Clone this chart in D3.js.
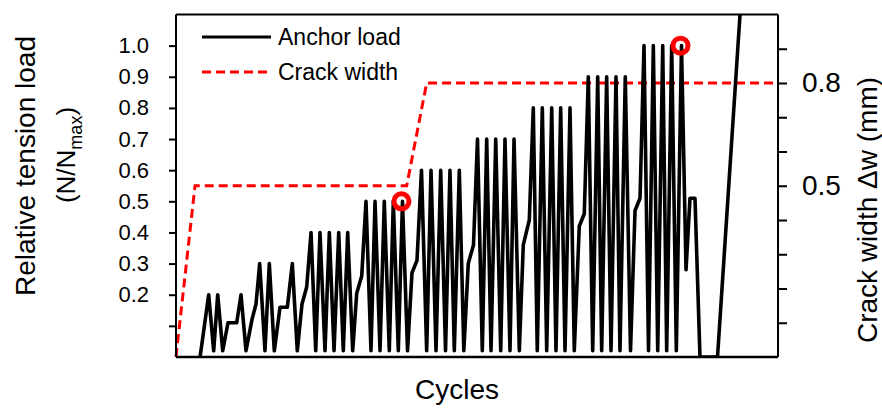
<!DOCTYPE html>
<html>
<head>
<meta charset="utf-8">
<script src="https://cdn.jsdelivr.net/npm/d3@7"></script>
<style>
  html, body { margin: 0; padding: 0; background: #fff; }
  svg text { font-family: "Liberation Sans", Arial, sans-serif; fill: #000; }
</style>
</head>
<body>
<svg id="chart" width="882" height="410"></svg>
<script>
/* anchor load vs crack width, cyclic test */
// cycle axis has no ticks: arbitrary 0..100 units
var loadCycles = [4.0, 5.43, 6.26, 6.93, 7.76, 8.64, 10.08, 10.80, 11.63, 12.62, 13.29, 13.90, 14.78, 15.50, 16.33, 17.28, 18.49, 19.32, 20.15,
  20.93, 21.71, 22.43, 23.21, 23.92, 24.75, 25.47, 26.25, 27.03, 27.79, 28.52, 29.35, 30.02, 30.85,
  31.56, 32.39, 33.06, 33.89, 34.60, 35.43, 36.10, 36.93, 37.62, 38.46, 39.20, 40.03,
  40.78, 41.64, 42.36, 43.19, 43.97, 44.77, 45.51, 46.23, 47.06, 47.81, 48.55, 49.42,
  50.08, 50.88, 51.61, 52.33, 53.11, 53.94, 54.65, 55.48, 56.15, 57.03, 57.69, 58.69,
  59.35, 60.01, 60.85, 61.58, 62.41, 63.12, 63.90, 64.62, 65.45, 66.16, 66.99, 67.82,
  68.49, 69.22, 70.05, 70.71, 71.54, 72.26, 73.09, 73.75, 74.63, 75.50, 76.25, 77.08,
  77.74, 78.49, 79.29, 80.02, 80.85, 81.51, 82.34, 83.11, 83.97, 84.72, 85.38, 86.21, 87.04, 89.95, 93.69];
var loadValues = [0, 0.2, 0.02, 0.2, 0.02, 0.11, 0.11, 0.2, 0.02, 0.12, 0.17, 0.30, 0.02, 0.30, 0.02, 0.16, 0.16, 0.30, 0.02,
  0.17, 0.225, 0.40, 0.02, 0.40, 0.02, 0.40, 0.02, 0.40, 0.02, 0.40, 0.02, 0.205, 0.26,
  0.50, 0.02, 0.50, 0.02, 0.50, 0.02, 0.50, 0.02, 0.50, 0.02, 0.27, 0.31,
  0.60, 0.02, 0.60, 0.02, 0.60, 0.02, 0.60, 0.02, 0.60, 0.02, 0.30, 0.36,
  0.70, 0.02, 0.70, 0.02, 0.70, 0.02, 0.70, 0.02, 0.70, 0.02, 0.36, 0.44,
  0.80, 0.02, 0.80, 0.02, 0.80, 0.02, 0.80, 0.02, 0.80, 0.02, 0.42, 0.46,
  0.90, 0.02, 0.90, 0.02, 0.90, 0.02, 0.90, 0.02, 0.90, 0.02, 0.47, 0.51,
  1.00, 0.02, 1.00, 0.02, 1.00, 0.02, 1.00, 0.02, 1.00, 0.28, 0.51, 0.51, 0, 0, 1.10];
var crackCycles = [0, 3.16, 38.32, 41.64, 100];
var crackValues = [0, 0.5, 0.5, 0.8, 0.8];           // mm
var markedIdx = [41, 101];                           // circled peaks in loadCycles
var loadTicks = [0.1, 0.2, 0.3, 0.4, 0.5, 0.6, 0.7, 0.8, 0.9, 1.0];
var crackTicks = [0.1, 0.2, 0.3, 0.4, 0.5, 0.6, 0.7, 0.8, 0.9];
var crackLabels = [0.5, 0.8];
var seriesNames = ['Anchor load', 'Crack width'];

(function () {
  var svg = d3.select('#chart');
  var L = 176, R = 778, T = 14.5, B = 357;
  var x = d3.scaleLinear().domain([0, 100]).range([L, R]);
  var y = d3.scaleLinear().domain([0, 1.1]).range([B, T]);
  var y2 = d3.scaleLinear().domain([0, 1.0]).range([B, T]);

  svg.append('clipPath').attr('id', 'plot-clip').append('rect')
    .attr('x', L).attr('y', T).attr('width', R - L).attr('height', B - T);

  // crack width (right axis)
  var crack = crackCycles.map(function (c, i) { return [c, crackValues[i]]; });
  svg.append('path').datum(crack)
    .attr('d', d3.line().x(function (d) { return x(d[0]); }).y(function (d) { return y2(d[1]); }))
    .attr('fill', 'none').attr('stroke', '#ff0000').attr('stroke-width', 3).attr('stroke-dasharray', '9,5');

  // anchor load
  var load = loadCycles.map(function (c, i) { return [c, loadValues[i]]; });
  svg.append('path').datum(load).attr('clip-path', 'url(#plot-clip)')
    .attr('d', d3.line().x(function (d) { return x(d[0]); }).y(function (d) { return y(d[1]); }))
    .attr('fill', 'none').attr('stroke', '#000').attr('stroke-width', 3.6).attr('stroke-linejoin', 'round');

  svg.selectAll('circle.mark').data(markedIdx).enter().append('circle').attr('class', 'mark')
    .attr('cx', function (i) { return x(loadCycles[i]) - 1; }).attr('cy', function (i) { return y(loadValues[i]); })
    .attr('r', 7.5).attr('fill', 'none').attr('stroke', '#ff0000').attr('stroke-width', 5);

  // frame
  svg.append('line').attr('x1', L).attr('x2', R).attr('y1', T).attr('y2', T).attr('stroke', '#000').attr('stroke-width', 2);
  svg.append('line').attr('x1', L).attr('x2', R).attr('y1', B).attr('y2', B).attr('stroke', '#000').attr('stroke-width', 2.5);

  var gl = svg.append('g').attr('transform', 'translate(' + L + ',0)')
    .call(d3.axisLeft(y).tickValues(loadTicks).tickSizeOuter(0).tickSize(7).tickPadding(20)
      .tickFormat(function (d) { return d < 0.15 ? '' : d3.format('.1f')(d); }));
  var gr = svg.append('g').attr('transform', 'translate(' + R + ',0)')
    .call(d3.axisRight(y2).tickValues(crackTicks).tickSizeOuter(0).tickSize(9).tickPadding(15)
      .tickFormat(function (d) { return crackLabels.indexOf(d) !== -1 ? d3.format('.1f')(d) : ''; }));
  [gl, gr].forEach(function (g) {
    g.select('.domain').attr('stroke-width', 2).attr('d', 'M0,' + B + 'V' + T);
    g.selectAll('.tick line').attr('stroke-width', 2);
  });
  gl.selectAll('.tick text').attr('font-size', 22).attr('font-family', null);
  gr.selectAll('.tick text').attr('font-size', 28).attr('font-family', null);

  // legend
  var lg = svg.append('g');
  seriesNames.forEach(function (n, i) {
    var yy = 37 + i * 35;
    lg.append('line').attr('x1', 202).attr('x2', 271).attr('y1', yy).attr('y2', yy)
      .attr('stroke', i ? '#ff0000' : '#000').attr('stroke-width', 3).attr('stroke-dasharray', i ? '9,5' : null);
    lg.append('text').attr('x', 278).attr('y', yy + 8).attr('font-size', 23).text(n);
  });

  // axis titles
  svg.append('text').attr('x', 457).attr('y', 399).attr('text-anchor', 'middle').attr('font-size', 28).text('Cycles');
  svg.append('text').attr('transform', 'translate(35,166) rotate(-90)').attr('text-anchor', 'middle')
    .attr('font-size', 28).text('Relative tension load');
  var t2 = svg.append('text').attr('transform', 'translate(75,155) rotate(-90)').attr('text-anchor', 'middle').attr('font-size', 26);
  t2.append('tspan').text('(N/N');
  t2.append('tspan').attr('font-size', 18).attr('dy', 7).text('max');
  t2.append('tspan').attr('dy', -7).text(')');
  svg.append('text').attr('transform', 'translate(877,210) rotate(-90)').attr('text-anchor', 'middle')
    .attr('font-size', 28).text('Crack width \u0394w (mm)');
})();
</script>
</body>
</html>
